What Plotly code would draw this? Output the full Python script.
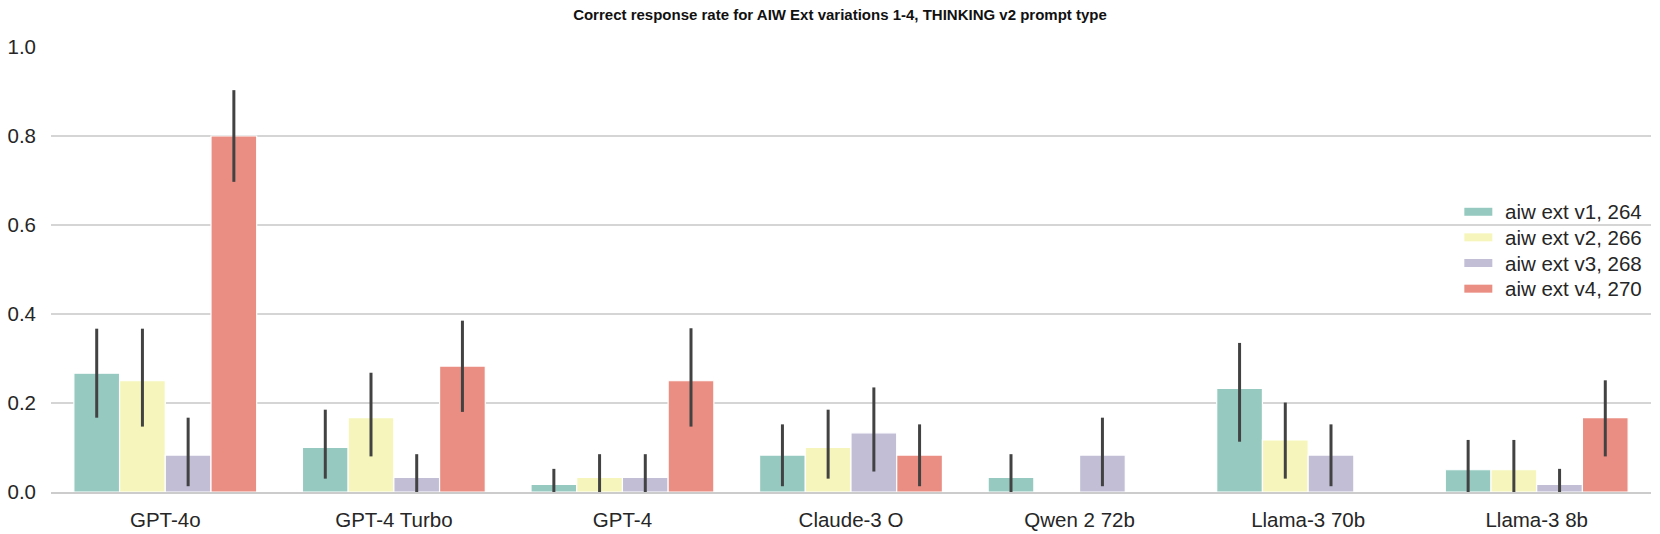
import plotly.graph_objects as go

models = ["GPT-4o", "GPT-4 Turbo", "GPT-4", "Claude-3 O", "Qwen 2 72b", "Llama-3 70b", "Llama-3 8b"]
series_names = ["aiw ext v1, 264", "aiw ext v2, 266", "aiw ext v3, 268", "aiw ext v4, 270"]

v1 = [0.267, 0.100, 0.017, 0.083, 0.033, 0.233, 0.050]
v1_lo = [0.167, 0.030, 0.000, 0.013, 0.000, 0.113, 0.000]
v1_hi = [0.367, 0.185, 0.052, 0.152, 0.085, 0.335, 0.117]

v2 = [0.250, 0.167, 0.033, 0.100, 0.000, 0.117, 0.050]
v2_lo = [0.147, 0.080, 0.000, 0.030, 0.000, 0.030, 0.000]
v2_hi = [0.367, 0.268, 0.085, 0.185, 0.000, 0.201, 0.117]

v3 = [0.083, 0.033, 0.033, 0.133, 0.083, 0.083, 0.017]
v3_lo = [0.013, 0.000, 0.000, 0.046, 0.013, 0.013, 0.000]
v3_hi = [0.167, 0.085, 0.085, 0.235, 0.167, 0.152, 0.052]

v4 = [0.800, 0.283, 0.250, 0.083, 0.000, 0.000, 0.167]
v4_lo = [0.697, 0.180, 0.147, 0.013, 0.000, 0.000, 0.080]
v4_hi = [0.903, 0.385, 0.368, 0.152, 0.000, 0.000, 0.251]

y_ticks = [0.0, 0.2, 0.4, 0.6, 0.8, 1.0]

colors = ["#96cac1", "#f6f6bc", "#c1bed6", "#ea8e83"]
FONT = "Liberation Sans, Arial, Helvetica, sans-serif"
TXT = "#262626"
W, H = 1660, 534
ML, MR, MT, MB = 50.5, 9.3, 46.7, 41.7

fig = go.Figure()
all_series = [(v1, v1_lo, v1_hi), (v2, v2_lo, v2_hi), (v3, v3_lo, v3_hi), (v4, v4_lo, v4_hi)]
for name, col, (vals, lo, hi) in zip(series_names, colors, all_series):
    fig.add_trace(go.Bar(
        x=models, y=vals, name=name, showlegend=False,
        marker=dict(color=col, line=dict(color="white", width=1.2)),
        error_y=dict(type="data", symmetric=False,
                     array=[h - v for h, v in zip(hi, vals)],
                     arrayminus=[v - l for v, l in zip(vals, lo)],
                     color="#424242", thickness=3, width=0),
    ))

# custom legend (swatches + labels) placed in paper coordinates
pw = W - ML - MR
ph = H - MT - MB
def px_x(px):
    return (px - ML) / pw
def px_y(py):
    return (H - MB - py) / ph

legend_rows = [211.7, 237.3, 263.0, 288.7]
shapes = []
annotations = []
for name, col, yc in zip(series_names, colors, legend_rows):
    shapes.append(dict(type="rect", xref="paper", yref="paper",
                       x0=px_x(1464), x1=px_x(1492), y0=px_y(yc + 4), y1=px_y(yc - 4),
                       fillcolor=col, line=dict(width=0)))
    annotations.append(dict(text=name, xref="paper", yref="paper",
                            x=px_x(1503), y=px_y(yc), xanchor="left", yanchor="middle",
                            showarrow=False, font=dict(family=FONT, size=20.5, color=TXT)))

fig.update_layout(
    width=W, height=H,
    margin=dict(l=ML, r=MR, t=MT, b=MB, autoexpand=False),
    paper_bgcolor="white", plot_bgcolor="white",
    barmode="group", bargap=0.2, bargroupgap=0,
    font=dict(family=FONT, size=20.5, color=TXT),
    title=dict(text="<b>Correct response rate for AIW Ext variations 1-4, THINKING v2 prompt type</b>",
               x=840 / W, xanchor="center", xref="container", y=1 - 15 / H, yanchor="middle",
               yref="container",
               font=dict(family=FONT, size=15, color="#111111")),
    showlegend=False,
    shapes=shapes,
    annotations=annotations,
    hovermode=False,
)
fig.update_xaxes(showgrid=False, showline=True, linecolor="#cccccc", linewidth=2,
                 ticks="", ticklabelstandoff=8, automargin=False,
                 tickfont=dict(size=20.5, color=TXT))
fig.update_yaxes(range=[0, 1.0], tickvals=y_ticks, tickformat=".1f",
                 showgrid=True, gridcolor="#d5d5d5", gridwidth=1.5,
                 zeroline=False, showline=False, ticks="", ticklabelstandoff=14,
                 automargin=False, tickfont=dict(size=20.5, color=TXT))

fig.write_html("out.html", config={"displayModeBar": False, "staticPlot": True},
               post_script="document.body.style.margin='0';document.body.style.padding='0';"
                           "document.body.style.overflow='hidden';")
